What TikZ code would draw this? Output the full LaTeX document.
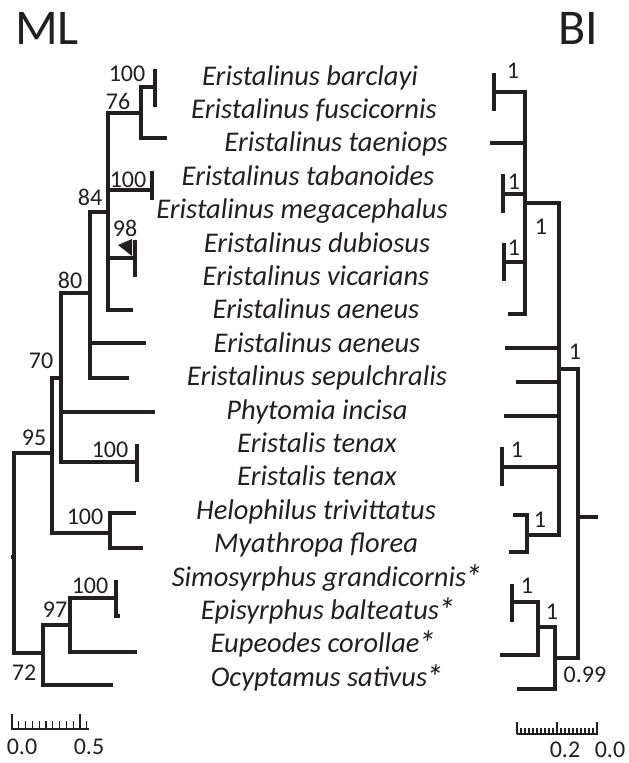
\documentclass[tikz,border=0pt]{standalone}
\usepackage{fontspec}
\setmainfont{Carlito}
\definecolor{ink}{HTML}{231F20}
\newcommand\tipstar{\kern-1.5pt\raisebox{-3pt}[0pt][0pt]{\fontsize{35}{35}\selectfont\itshape*}}

\begin{document}
\begin{tikzpicture}[x=1pt,y=-1pt,every node/.style={text=ink,inner sep=0pt},
 taxon/.style={font=\fontsize{28.5}{30}\selectfont\itshape,anchor=base},
 supp/.style={font=\fontsize{24}{26}\selectfont},
 hdr/.style={font=\fontsize{50}{52}\selectfont,anchor=base west},
 br/.style={draw=ink,line width=4.2pt},
 tick/.style={draw=ink,line width=1.3pt}]
\useasboundingbox (0,0) rectangle (629,763);
% headers
\node[hdr] (ml) at (15,44){ML};
\node[hdr] (bi) at (558,44){BI};
% taxa
\node[taxon] (t1) at (310,85){Eristalinus barclayi};
\node[taxon] (t2) at (314,118.4){Eristalinus fuscicornis};
\node[taxon] (t3) at (336,151.8){Eristalinus taeniops};
\node[taxon] (t4) at (308,185.2){Eristalinus tabanoides};
\node[taxon] (t5) at (302,218.6){Eristalinus megacephalus};
\node[taxon] (t6) at (317,252){Eristalinus dubiosus};
\node[taxon] (t7) at (316,285.4){Eristalinus vicarians};
\node[taxon] (t8) at (316,318.8){Eristalinus aeneus};
\node[taxon] (t9) at (317,352.2){Eristalinus aeneus};
\node[taxon] (t10) at (317,385.6){Eristalinus sepulchralis};
\node[taxon] (t11) at (317,419){Phytomia incisa};
\node[taxon] (t12) at (317,452.4){Eristalis tenax};
\node[taxon] (t13) at (317,485.8){Eristalis tenax};
\node[taxon] (t14) at (316,519.2){Helophilus trivittatus};
\node[taxon] (t15) at (316,552.6){Myathropa florea};
\node[taxon] (t16) at (327,586){Simosyrphus grandicornis\tipstar};
\node[taxon] (t17) at (328,619.4){Episyrphus balteatus\tipstar};
\node[taxon] (t18) at (323,652.8){Eupeodes corollae\tipstar};
\node[taxon] (t19) at (327,686.2){Ocyptamus sativus\tipstar};
% ML tree
\coordinate (Lbarc) at (155,87);\coordinate (Ltaen) at (167,138);\coordinate (La) at (141,113);
\coordinate (Ltab) at (152,190);\coordinate (Ldub) at (135,258);\coordinate (Laen) at (133,310);\coordinate (Lb) at (108,212);
\coordinate (Laenb) at (146,343);\coordinate (Lsep) at (129,378);\coordinate (Lc) at (90,293);
\coordinate (Lphy) at (155,412);\coordinate (Leri) at (137,462);\coordinate (Ld) at (61,378);
\coordinate (Lhel) at (136,513);\coordinate (Lmya) at (143,548);\coordinate (Le) at (110,533);\coordinate (Lf) at (52,453);
\coordinate (Lsim) at (116,598);\coordinate (Leup) at (137,652);\coordinate (Lg) at (70,625);
\coordinate (Locy) at (113,685);\coordinate (Lh) at (43,653);\coordinate (Lroot) at (14,557);
\draw[br] (Lbarc) -| (La) |- (Ltaen);
\draw[br] (La) -| (Lb) |- (Laen);\draw[br] (Lb|-Ltab) -- (Ltab);\draw[br] (Lb|-Ldub) -- (Ldub);
\draw[br] (Lb) -| (Lc) |- (Lsep);\draw[br] (Lc|-Laenb) -- (Laenb);
\draw[br] (Lc) -| (Ld) |- (Leri);\draw[br] (Ld|-Lphy) -- (Lphy);
\draw[br] (Lhel) -| (Le) |- (Lmya);
\draw[br] (Ld) -| (Lf) |- (Le);
\draw[br] (Lsim) -| (Lg) |- (Leup);
\draw[br] (Lg) -| (Lh) |- (Locy);
\draw[br] (Lf) -| (Lroot) |- (Lh);
\draw[br] (Lroot) -- ++(-3,0);
\draw[br] ([yshift=18pt]Lbarc) -- ([yshift=-20pt]Lbarc);
\draw[br] ([yshift=19pt]Ltab) -- ([yshift=-10pt]Ltab);
\draw[br] ([yshift=18pt]Ldub) -- ([yshift=-19pt]Ldub);
\draw[br] ([yshift=18pt]Leri) -- ([yshift=-20pt]Leri);
\draw[br] ([yshift=18pt]Lsim) -- ([yshift=-20pt]Lsim);
\draw[br] ([yshift=-18pt]Lsim) -- ++(4,0);
\fill[ink] (118,245) -- (132,239) -- (132,256) -- cycle;
% ML support
\node[supp] (m1) at (127,74){100};\node[supp] (m2) at (118,101){76};\node[supp] (m3) at (128,180){100};
\node[supp] (m4) at (90,197){84};\node[supp] (m5) at (125,228){98};\node[supp] (m6) at (70,280){80};
\node[supp] (m7) at (41,361){70};\node[supp] (m8) at (34,438){95};\node[supp] (m9) at (110,450){100};
\node[supp] (m10) at (85,517){100};\node[supp] (m11) at (90,586){100};\node[supp] (m12) at (55,610){97};
\node[supp] (m13) at (24,673){72};
% BI tree
\coordinate (Rbarc) at (494,92);\coordinate (Rtaen) at (490,143);\coordinate (Rtab) at (503,194);
\coordinate (Rdub) at (504,262);\coordinate (Raen) at (508,314);\coordinate (Ra) at (525,203);
\coordinate (Raenb) at (505,348);\coordinate (Rsep) at (516,382);\coordinate (Rphy) at (504,416);\coordinate (Reri) at (502,467);
\coordinate (Rhel) at (513,515);\coordinate (Rmya) at (509,552);\coordinate (Rb) at (527,535);\coordinate (Rc) at (559,369);
\coordinate (Rsim) at (512,602);\coordinate (Reup) at (500,655);\coordinate (Rd) at (538,627);
\coordinate (Rocy) at (517,689);\coordinate (Re) at (555,658);\coordinate (Rroot) at (578,517);\coordinate (Rstub) at (598,517);
\draw[br] (Rbarc) -| (Ra) |- (Raen);\draw[br] (Ra|-Rtaen) -- (Rtaen);\draw[br] (Ra|-Rtab) -- (Rtab);\draw[br] (Ra|-Rdub) -- (Rdub);
\draw[br] (Ra) -| (Rc) |- (Rb);\draw[br] (Rc|-Raenb) -- (Raenb);\draw[br] (Rc|-Rsep) -- (Rsep);\draw[br] (Rc|-Rphy) -- (Rphy);\draw[br] (Rc|-Reri) -- (Reri);
\draw[br] (Rhel) -| (Rb) |- (Rmya);
\draw[br] (Rsim) -| (Rd) |- (Reup);
\draw[br] (Rd) -| (Re) |- (Rocy);
\draw[br] (Rc) -| (Rroot) |- (Re);
\draw[br] (Rroot) -- (Rstub);
\draw[br] ([yshift=19pt]Rbarc) -- ([yshift=-19pt]Rbarc);
\draw[br] ([yshift=20pt]Rtab) -- ([yshift=-19pt]Rtab);
\draw[br] ([yshift=19pt]Rdub) -- ([yshift=-19pt]Rdub);
\draw[br] ([yshift=20pt]Reri) -- ([yshift=-19pt]Reri);
\draw[br] ([yshift=18pt]Rsim) -- ([yshift=-20pt]Rsim);
% BI support
\node[supp] (b1) at (513,71){1};\node[supp] (b2) at (514,182){1};\node[supp] (b3) at (541,227){1};
\node[supp] (b4) at (514,248){1};\node[supp] (b5) at (575,352){1};\node[supp] (b6) at (517,450){1};
\node[supp] (b7) at (540,520){1};\node[supp] (b8) at (527,586){1};\node[supp] (b9) at (552,612){1};
\node[supp] (b10) at (585,675){0.99};
% scale bars
\draw[tick] (11,729) -- (89,729);
\foreach \i in {0,...,11}{\pgfmathsetmacro\h{(\i==0||\i==10)?15:8}\draw[tick] (12+6.8*\i,729) -- ++(0,-\h);}
\node[supp] (sl0) at (22,747){0.0};\node[supp] (sl5) at (89,747){0.5};
\draw[tick] (517,734) -- (598,734);
\foreach \i in {0,...,20}{\pgfmathsetmacro\h{(mod(\i,10)==0)?12:6}\draw[tick] (597-4*\i,734) -- ++(0,-\h);}
\node[supp] (sr2) at (565,750){0.2};\node[supp] (sr0) at (610,750){0.0};
\end{tikzpicture}
\end{document}
